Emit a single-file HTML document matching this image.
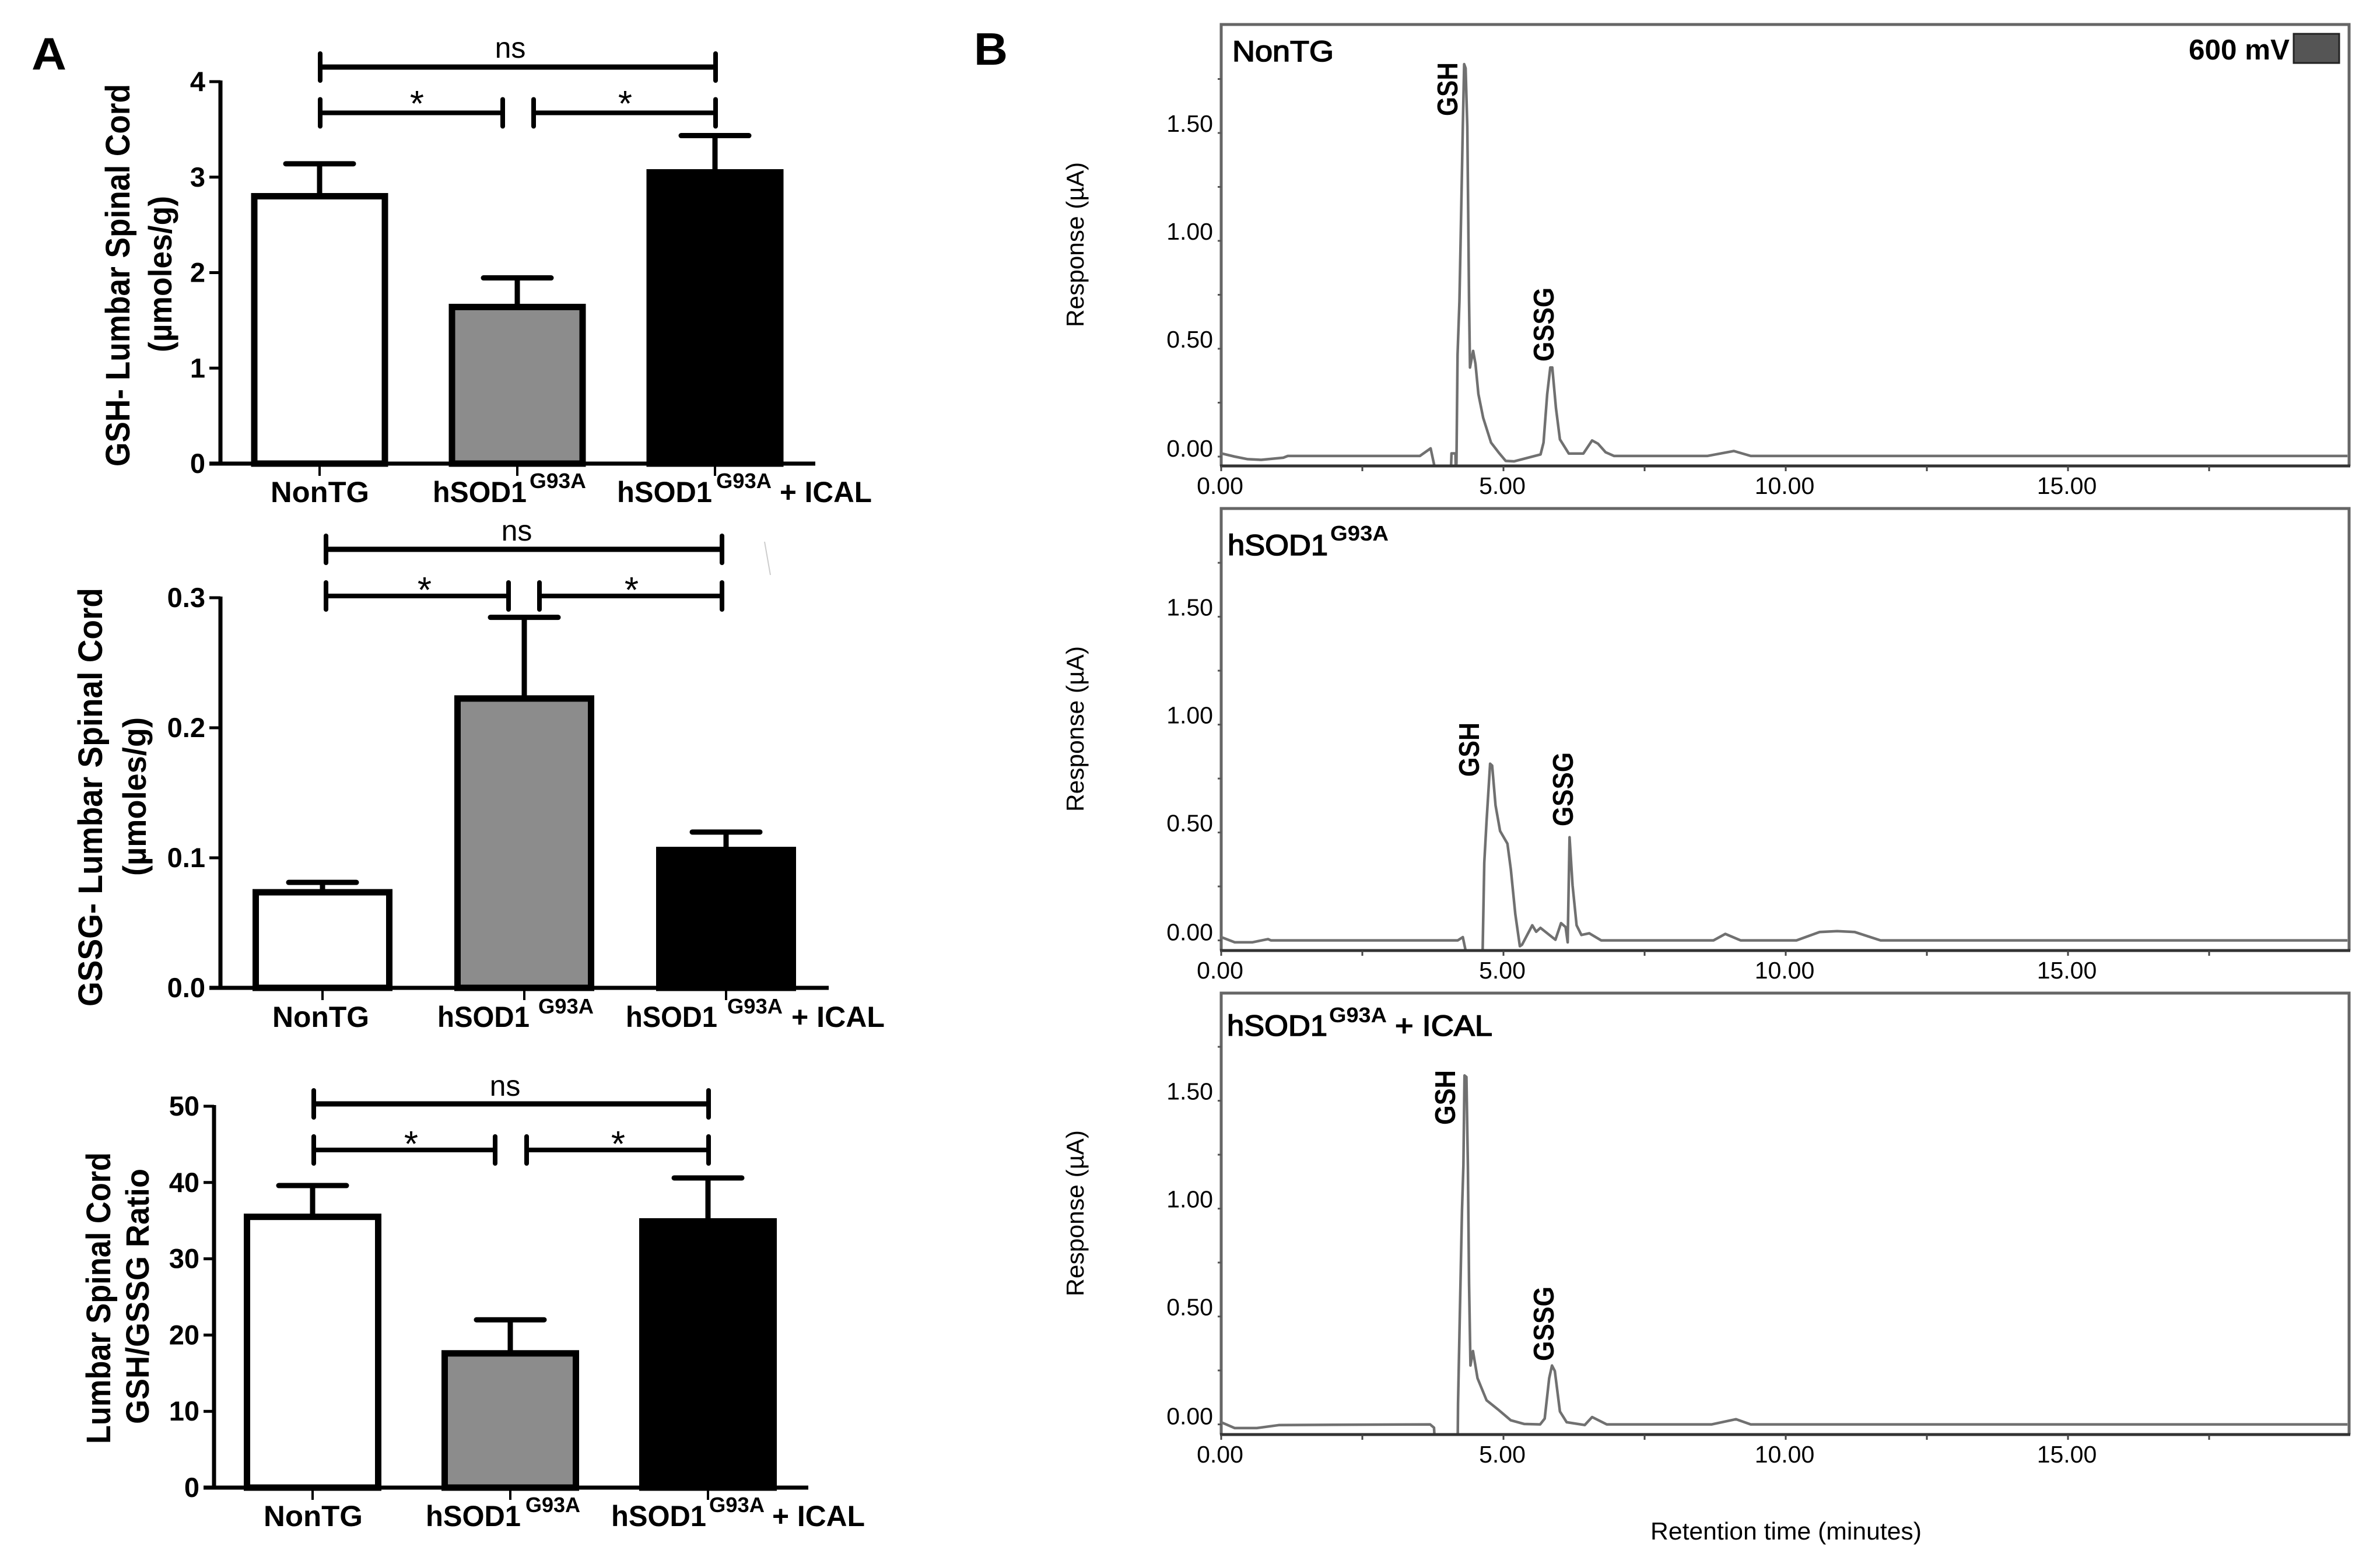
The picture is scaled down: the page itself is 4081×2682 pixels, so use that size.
<!DOCTYPE html>
<html lang="en">
<head>
<meta charset="utf-8">
<title>GSH and GSSG levels in lumbar spinal cord</title>
<style>
html,body{margin:0;padding:0;background:#fff;}
svg{display:block;}
text{font-family:"Liberation Sans",sans-serif;fill:#000;}
.b{font-weight:bold;}
</style>
</head>
<body>
<svg id="figure" xmlns="http://www.w3.org/2000/svg" width="4081" height="2682" viewBox="0 0 4081 2682">
<rect x="0" y="0" width="4081" height="2682" fill="#fff"/>
<text class="b" x="54" y="119" font-size="78" textLength="60" lengthAdjust="spacingAndGlyphs">A</text>
<text class="b" x="1670" y="111" font-size="78" textLength="58" lengthAdjust="spacingAndGlyphs">B</text>

<!-- Panel A1 text -->
<text class="b" transform="translate(222,800) rotate(-90)" font-size="58" textLength="656" lengthAdjust="spacingAndGlyphs">GSH- Lumbar Spinal Cord</text>
<text class="b" transform="translate(294,604) rotate(-90)" font-size="56" textLength="268" lengthAdjust="spacingAndGlyphs">(µmoles/g)</text>
<text class="b" x="464" y="861" font-size="50" textLength="169" lengthAdjust="spacingAndGlyphs">NonTG</text>
<text class="b" x="742" y="861" font-size="50" textLength="161" lengthAdjust="spacingAndGlyphs">hSOD1</text>
<text class="b" x="908" y="837" font-size="36" textLength="97" lengthAdjust="spacingAndGlyphs">G93A</text>
<text class="b" x="1058" y="861" font-size="50" textLength="163" lengthAdjust="spacingAndGlyphs">hSOD1</text>
<text class="b" x="1228" y="837" font-size="36" textLength="95" lengthAdjust="spacingAndGlyphs">G93A</text>
<text class="b" x="1337" y="861" font-size="50" textLength="158" lengthAdjust="spacingAndGlyphs">+ ICAL</text>
<text x="875" y="99" font-size="50" text-anchor="middle">ns</text>
<text x="715" y="199" font-size="62" text-anchor="middle">*</text>
<text x="1072" y="199" font-size="62" text-anchor="middle">*</text>

<!-- Panel A2 text -->
<text class="b" transform="translate(175,1726) rotate(-90)" font-size="58" textLength="718" lengthAdjust="spacingAndGlyphs">GSSG- Lumbar Spinal Cord</text>
<text class="b" transform="translate(250,1502) rotate(-90)" font-size="56" textLength="272" lengthAdjust="spacingAndGlyphs">(µmoles/g)</text>
<text class="b" x="467" y="1761" font-size="50" textLength="166" lengthAdjust="spacingAndGlyphs">NonTG</text>
<text class="b" x="750" y="1761" font-size="50" textLength="158" lengthAdjust="spacingAndGlyphs">hSOD1</text>
<text class="b" x="923" y="1738" font-size="36" textLength="95" lengthAdjust="spacingAndGlyphs">G93A</text>
<text class="b" x="1073" y="1761" font-size="50" textLength="157" lengthAdjust="spacingAndGlyphs">hSOD1</text>
<text class="b" x="1247" y="1738" font-size="36" textLength="95" lengthAdjust="spacingAndGlyphs">G93A</text>
<text class="b" x="1357" y="1761" font-size="50" textLength="160" lengthAdjust="spacingAndGlyphs">+ ICAL</text>
<text x="886" y="927" font-size="50" text-anchor="middle">ns</text>
<text x="728" y="1033" font-size="62" text-anchor="middle">*</text>
<text x="1083" y="1033" font-size="62" text-anchor="middle">*</text>
<line x1="1311" y1="929" x2="1321" y2="986" stroke="#ccc" stroke-width="2"/>

<!-- Panel A3 text -->
<text class="b" transform="translate(189,2476) rotate(-90)" font-size="58" textLength="500" lengthAdjust="spacingAndGlyphs">Lumbar Spinal Cord</text>
<text class="b" transform="translate(255,2442) rotate(-90)" font-size="56" textLength="438" lengthAdjust="spacingAndGlyphs">GSH/GSSG Ratio</text>
<text class="b" x="452" y="2617" font-size="50" textLength="170" lengthAdjust="spacingAndGlyphs">NonTG</text>
<text class="b" x="730" y="2617" font-size="50" textLength="163" lengthAdjust="spacingAndGlyphs">hSOD1</text>
<text class="b" x="901" y="2593" font-size="36" textLength="94" lengthAdjust="spacingAndGlyphs">G93A</text>
<text class="b" x="1048" y="2617" font-size="50" textLength="163" lengthAdjust="spacingAndGlyphs">hSOD1</text>
<text class="b" x="1216" y="2593" font-size="36" textLength="95" lengthAdjust="spacingAndGlyphs">G93A</text>
<text class="b" x="1324" y="2617" font-size="50" textLength="159" lengthAdjust="spacingAndGlyphs">+ ICAL</text>
<text x="866" y="1879" font-size="50" text-anchor="middle">ns</text>
<text x="705" y="1983" font-size="62" text-anchor="middle">*</text>
<text x="1060" y="1983" font-size="62" text-anchor="middle">*</text>

<!-- Panel B text -->
<text x="2113" y="105" font-size="50" stroke="#000" stroke-width="1.6" textLength="174" lengthAdjust="spacingAndGlyphs">NonTG</text>
<text class="b" x="3753" y="102" font-size="49" textLength="173" lengthAdjust="spacingAndGlyphs">600 mV</text>
<rect x="3933" y="58" width="78" height="50" fill="#555" stroke="#222" stroke-width="3"/>
<text transform="translate(1858,561) rotate(-90)" font-size="42" textLength="283" lengthAdjust="spacingAndGlyphs">Response (µA)</text>
<text class="b" transform="translate(2499,199) rotate(-90)" font-size="49" textLength="92" lengthAdjust="spacingAndGlyphs">GSH</text>
<text class="b" transform="translate(2664,620) rotate(-90)" font-size="49" textLength="127" lengthAdjust="spacingAndGlyphs">GSSG</text>

<text x="2105" y="952" font-size="50" stroke="#000" stroke-width="1.6" textLength="172" lengthAdjust="spacingAndGlyphs">hSOD1</text>
<text class="b" x="2281" y="927" font-size="36" textLength="100" lengthAdjust="spacingAndGlyphs">G93A</text>
<text transform="translate(1858,1392) rotate(-90)" font-size="42" textLength="284" lengthAdjust="spacingAndGlyphs">Response (µA)</text>
<text class="b" transform="translate(2536,1332) rotate(-90)" font-size="49" textLength="93" lengthAdjust="spacingAndGlyphs">GSH</text>
<text class="b" transform="translate(2697,1417) rotate(-90)" font-size="49" textLength="127" lengthAdjust="spacingAndGlyphs">GSSG</text>

<text x="2104" y="1776" font-size="50" stroke="#000" stroke-width="1.6" textLength="172" lengthAdjust="spacingAndGlyphs">hSOD1</text>
<text class="b" x="2279" y="1753" font-size="36" textLength="99" lengthAdjust="spacingAndGlyphs">G93A</text>
<text x="2392" y="1776" font-size="50" stroke="#000" stroke-width="1.6" textLength="167" lengthAdjust="spacingAndGlyphs">+ ICAL</text>
<text transform="translate(1858,2223) rotate(-90)" font-size="42" textLength="285" lengthAdjust="spacingAndGlyphs">Response (µA)</text>
<text class="b" transform="translate(2495,1929) rotate(-90)" font-size="49" textLength="94" lengthAdjust="spacingAndGlyphs">GSH</text>
<text class="b" transform="translate(2664,2334) rotate(-90)" font-size="49" textLength="128" lengthAdjust="spacingAndGlyphs">GSSG</text>
<text x="2830" y="2640" font-size="42" textLength="465" lengthAdjust="spacingAndGlyphs">Retention time (minutes)</text>
</svg>

<script>
// Bar chart data
const barFills = ['#ffffff', '#8c8c8c', '#000000'];
const gshMeans = [2.80, 1.64, 3.05];
const gshErrorTops = [3.14, 1.945, 3.435];
const gshTicks = [0, 1, 2, 3, 4];
const gshTickLabels = ['0', '1', '2', '3', '4'];
const gssgMeans = [0.0735, 0.2225, 0.106];
const gssgErrorTops = [0.0811, 0.2849, 0.1198];
const gssgTicks = [0, 0.1, 0.2, 0.3];
const gssgTickLabels = ['0.0', '0.1', '0.2', '0.3'];
const ratioMeans = [35.5, 17.6, 34.9];
const ratioErrorTops = [39.6, 22.0, 40.6];
const ratioTicks = [0, 10, 20, 30, 40, 50];
const ratioTickLabels = ['0', '10', '20', '30', '40', '50'];

// Chromatogram data
const xTickValues = [0, 2.5, 5, 7.5, 10, 12.5, 15, 17.5];
const xTickLabels = ['0.00', '', '5.00', '', '10.00', '', '15.00', ''];
const yTickValues = [0, 0.25, 0.5, 0.75, 1, 1.25, 1.5, 1.75];
const yTickLabels = ['0.00', '', '0.50', '', '1.00', '', '1.50', ''];

const nontgTimes = [0, 0.24, 0.47, 0.71, 1.1, 1.18, 3.52, 3.71, 3.79, 4.07, 4.08, 4.15, 4.155, 4.167, 4.187, 4.22, 4.256, 4.28, 4.304, 4.33, 4.36, 4.376, 4.39, 4.407, 4.463, 4.504, 4.556, 4.64, 4.78, 4.917, 5.04, 5.19, 5.657, 5.71, 5.775, 5.83, 5.865, 5.93, 6.0, 6.157, 6.415, 6.57, 6.674, 6.81, 6.96, 8.61, 9.08, 9.38, 19.95];
const nontgResponse = [0.015, 0, -0.012, -0.015, -0.005, 0.003, 0.003, 0.038, -0.06, -0.06, 0.015, 0.015, -0.06, -0.03, 0.473, 0.72, 1.205, 1.53, 1.819, 1.8, 1.53, 1.11, 0.72, 0.413, 0.49, 0.43, 0.29, 0.18, 0.065, 0.018, -0.02, -0.022, 0.01, 0.065, 0.29, 0.413, 0.413, 0.225, 0.08, 0.014, 0.014, 0.075, 0.06, 0.02, 0.003, 0.003, 0.026, 0.003, 0.003];

const hsodTimes = [0, 0.24, 0.55, 0.83, 0.88, 4.19, 4.28, 4.34, 4.63, 4.66, 4.7, 4.763, 4.8, 4.86, 4.94, 5.07, 5.13, 5.21, 5.29, 5.33, 5.51, 5.58, 5.655, 5.92, 6.02, 6.1, 6.137, 6.17, 6.224, 6.295, 6.38, 6.52, 6.73, 8.72, 8.93, 9.2, 10.19, 10.6, 10.91, 11.22, 11.68, 19.95];
const hsodResponse = [0.015, -0.009, -0.009, 0.006, 0, 0, 0.015, -0.06, -0.06, 0.36, 0.552, 0.819, 0.81, 0.626, 0.507, 0.448, 0.33, 0.122, -0.027, -0.02, 0.07, 0.04, 0.058, 0.003, 0.08, 0.062, -0.009, 0.478, 0.255, 0.07, 0.025, 0.033, 0, 0, 0.03, 0, 0, 0.039, 0.043, 0.039, 0, 0];

const icalTimes = [0, 0.24, 0.63, 1.03, 3.7, 3.77, 3.78, 4.19, 4.195, 4.225, 4.265, 4.29, 4.31, 4.344, 4.37, 4.39, 4.415, 4.46, 4.54, 4.7, 4.9, 5.13, 5.37, 5.65, 5.73, 5.81, 5.86, 5.91, 6.0, 6.12, 6.44, 6.57, 6.83, 8.69, 9.12, 9.38, 19.95];
const icalResponse = [0.01, -0.017, -0.017, -0.003, 0, -0.015, -0.06, -0.06, 0.095, 0.485, 0.993, 1.2, 1.617, 1.61, 1.197, 0.654, 0.273, 0.34, 0.214, 0.112, 0.07, 0.019, 0.002, 0, 0.027, 0.214, 0.273, 0.247, 0.06, 0.01, -0.003, 0.034, 0, 0, 0.024, 0, 0];

const SVGNS = 'http://www.w3.org/2000/svg';
const figure = document.getElementById('figure');

function make(tag, attrs) {
  const node = document.createElementNS(SVGNS, tag);
  Object.keys(attrs).forEach(function (k) { node.setAttribute(k, attrs[k]); });
  figure.appendChild(node);
  return node;
}

function drawBarPanel(cfg) {
  const yScale = function (v) { return cfg.y0 - (v / cfg.max) * (cfg.y0 - cfg.yTop); };
  const xBand = function (i) { return cfg.first + i * cfg.step; };

  cfg.means.forEach(function (m, i) {
    const cx = xBand(i);
    const errLine = make('line', { x1: cx, x2: cx, y1: yScale(m), y2: yScale(cfg.errors[i]), stroke: '#000', 'stroke-width': 9 });
    
    
    const cap = make('line', { x1: cx - 58, x2: cx + 58, y1: yScale(cfg.errors[i]), y2: yScale(cfg.errors[i]), stroke: '#000', 'stroke-width': 9, 'stroke-linecap': 'round' });
    
    
    const bar = make('rect', { x: cx - cfg.barW / 2, y: yScale(m), width: cfg.barW, height: cfg.y0 - yScale(m), fill: barFills[i], stroke: '#000', 'stroke-width': 11 });
    
    
    const tick = make('line', { x1: cx, x2: cx, y1: cfg.y0, y2: cfg.y0 + 21, stroke: '#000', 'stroke-width': 4 });
    
    
  });

  const yAxis = make('line', { x1: cfg.axisX, x2: cfg.axisX, y1: cfg.yTop - 2, y2: cfg.y0, stroke: '#000', 'stroke-width': 7 });
  
  
  const xAxis = make('line', { x1: cfg.baseLeft, x2: cfg.baseRight, y1: cfg.y0, y2: cfg.y0, stroke: '#000', 'stroke-width': 7 });
  
  

  cfg.ticks.forEach(function (t, i) {
    const tk = make('line', { x1: cfg.baseLeft, x2: cfg.axisX, y1: yScale(t), y2: yScale(t), stroke: '#000', 'stroke-width': 5 });
    
    
    const lab = make('text', { x: cfg.labelX, y: yScale(t) + 16, 'font-size': 47, 'font-weight': 'bold', 'text-anchor': 'end' });
    
    
    lab.textContent = cfg.tickLabels[i];
  });

  cfg.brackets.forEach(function (b, i) {
    const h = make('line', { x1: b[0], x2: b[1], y1: b[2], y2: b[2], stroke: '#000', 'stroke-width': b[3] });
    
    
    const capL = make('line', { x1: b[0], x2: b[0], y1: b[2] - 23, y2: b[2] + 23, stroke: '#000', 'stroke-width': 8, 'stroke-linecap': 'round' });
    
    
    const capR = make('line', { x1: b[1], x2: b[1], y1: b[2] - 23, y2: b[2] + 23, stroke: '#000', 'stroke-width': 8, 'stroke-linecap': 'round' });
    
    
  });
}

function drawTracePanel(cfg) {
  const left = 2094, right = 4028, pxPerMin = 96.8, pxPerUnit = 370;
  const xScale = function (t) { return left + t * pxPerMin; };
  const yScale = function (v) { return cfg.y0 - v * pxPerUnit; };

  const clip = make('clipPath', { id: cfg.id + '-clip' });
  const clipRect = document.createElementNS(SVGNS, 'rect');
  clipRect.setAttribute('x', left);
  clipRect.setAttribute('y', cfg.top);
  clipRect.setAttribute('width', right - left);
  clipRect.setAttribute('height', cfg.bottom - cfg.top);
  clip.appendChild(clipRect);

  const frame = make('path', { d: 'M' + left + ' ' + cfg.bottom + 'V' + cfg.top + 'H' + right + 'V' + cfg.bottom, fill: 'none', stroke: '#666', 'stroke-width': 5 });
  
  

  const pts = cfg.times.map(function (t, i) { return xScale(t).toFixed(1) + ',' + yScale(cfg.resp[i]).toFixed(1); }).join(' ');
  const trace = make('polyline', { points: pts, fill: 'none', stroke: '#707070', 'stroke-width': 4.5, 'stroke-linejoin': 'round', 'clip-path': 'url(#' + cfg.id + '-clip)' });
  
  

  const xAxis = make('line', { x1: left - 2, x2: right + 2, y1: cfg.bottom, y2: cfg.bottom, stroke: '#333', 'stroke-width': 5 });
  
  

  xTickValues.forEach(function (t, i) {
    const tk = make('line', { x1: xScale(t), x2: xScale(t), y1: cfg.bottom, y2: cfg.bottom + 9, stroke: '#444', 'stroke-width': 3 });
    
    
    if (xTickLabels[i]) {
      const lab = make('text', { x: xScale(t) - 2, y: cfg.xLabelY, 'font-size': 41, 'text-anchor': 'middle' });
      
      
      lab.textContent = xTickLabels[i];
    }
  });
  yTickValues.forEach(function (v, i) {
    const tk = make('line', { x1: left - 6, x2: left, y1: yScale(v), y2: yScale(v), stroke: '#555', 'stroke-width': 3 });
    
    
    if (yTickLabels[i]) {
      const lab = make('text', { x: 2080, y: yScale(v) - (i === 0 ? 0 : 2), 'font-size': 41, 'text-anchor': 'end' });
      
      
      lab.textContent = yTickLabels[i];
    }
  });
}

drawBarPanel({ id: 'gsh', means: gshMeans, errors: gshErrorTops, ticks: gshTicks, tickLabels: gshTickLabels, max: 4, y0: 795, yTop: 140, axisX: 378, baseLeft: 359, baseRight: 1398, labelX: 352, first: 548, step: 339, barW: 224,
  brackets: [[549, 1227, 115, 9], [549, 862, 193.5, 8], [915, 1227, 193.5, 8]] });
drawBarPanel({ id: 'gssg', means: gssgMeans, errors: gssgErrorTops, ticks: gssgTicks, tickLabels: gssgTickLabels, max: 0.3, y0: 1694, yTop: 1025, axisX: 378, baseLeft: 359, baseRight: 1421, labelX: 352, first: 553, step: 346, barW: 229,
  brackets: [[559, 1238, 942, 9], [559, 872, 1022, 8], [925, 1238, 1022, 8]] });
drawBarPanel({ id: 'ratio', means: ratioMeans, errors: ratioErrorTops, ticks: ratioTicks, tickLabels: ratioTickLabels, max: 50, y0: 2551, yTop: 1897, axisX: 367, baseLeft: 349, baseRight: 1386, labelX: 342, first: 536, step: 339, barW: 225,
  brackets: [[538, 1215, 1893, 9], [538, 849, 1972, 8], [903, 1215, 1972, 8]] });

drawTracePanel({ id: 'nontg', times: nontgTimes, resp: nontgResponse, top: 42, bottom: 799, y0: 783, xLabelY: 847 });
drawTracePanel({ id: 'hsod1', times: hsodTimes, resp: hsodResponse, top: 872, bottom: 1630, y0: 1612.6, xLabelY: 1678 });
drawTracePanel({ id: 'ical', times: icalTimes, resp: icalResponse, top: 1703, bottom: 2460, y0: 2442.6, xLabelY: 2508 });
</script>
</body>
</html>
